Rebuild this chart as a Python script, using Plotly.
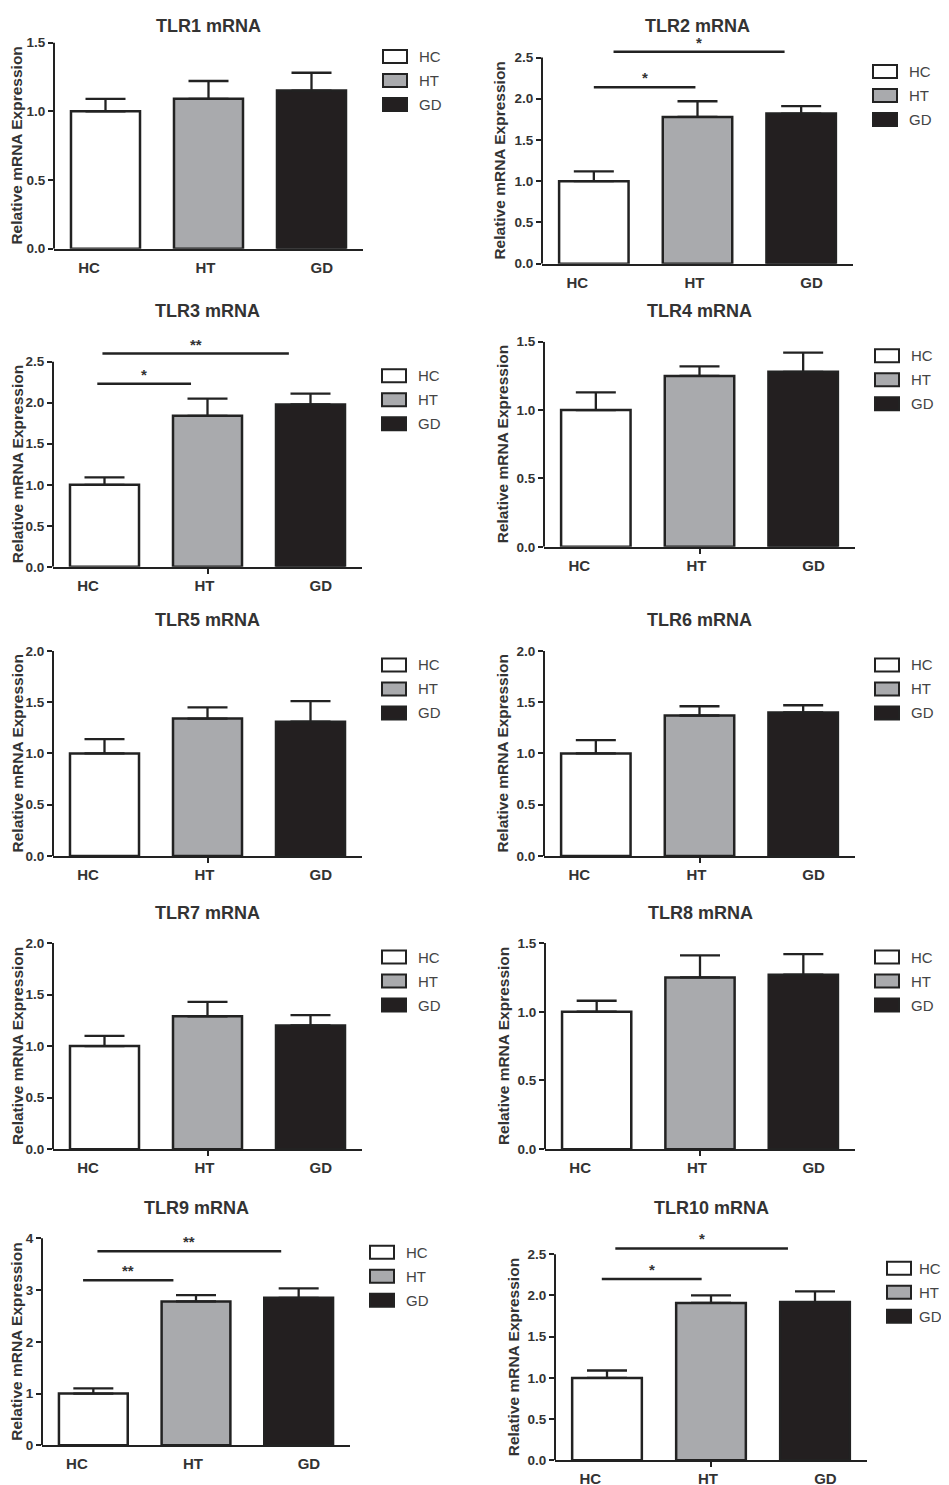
import plotly.graph_objects as go

W, H = 949, 1485
# where the page puts the plot: screen = offset + scale * paper (measured)
OFF_X = 8
OFF_Y, SCALE_Y = 15.5, 0.9893
RIGHT_LIMIT = 940  # last visible screen column

groups = ["HC", "HT", "GD"]
bar_colors = ["#ffffff", "#a9aaad", "#231f20"]

titles = ["TLR1 mRNA", "TLR2 mRNA", "TLR3 mRNA", "TLR4 mRNA", "TLR5 mRNA",
          "TLR6 mRNA", "TLR7 mRNA", "TLR8 mRNA", "TLR9 mRNA", "TLR10 mRNA"]

mean_vals = [
    [1.00, 1.09, 1.15],
    [1.00, 1.78, 1.82],
    [1.00, 1.84, 1.98],
    [1.00, 1.25, 1.28],
    [1.00, 1.34, 1.31],
    [1.00, 1.37, 1.40],
    [1.00, 1.29, 1.20],
    [1.00, 1.25, 1.27],
    [1.00, 2.78, 2.85],
    [1.00, 1.91, 1.92],
]
sem_vals = [
    [0.09, 0.13, 0.13],
    [0.12, 0.19, 0.09],
    [0.09, 0.21, 0.13],
    [0.13, 0.07, 0.14],
    [0.14, 0.11, 0.20],
    [0.13, 0.09, 0.07],
    [0.10, 0.14, 0.10],
    [0.08, 0.16, 0.15],
    [0.10, 0.12, 0.18],
    [0.09, 0.09, 0.13],
]
y_max = [1.5, 2.5, 2.5, 1.5, 2.0, 2.0, 2.0, 1.5, 4, 2.5]
y_step = [0.5, 0.5, 0.5, 0.5, 0.5, 0.5, 0.5, 0.5, 1, 0.5]

# significance bars: panel -> list of (x_start, x_end, height, label)
sig_bars = {
    1: [(0.0, 0.98, 2.14, "*"), (0.19, 1.84, 2.57, "*")],
    2: [(-0.07, 0.84, 2.23, "*"), (-0.02, 1.79, 2.60, "**")],
    8: [(-0.10, 0.78, 3.19, "**"), (0.04, 1.83, 3.75, "**")],
    9: [(-0.05, 0.91, 2.20, "*"), (0.08, 1.74, 2.57, "*")],
}

# panels where the x tick under HT shows
ht_tick = [2, 3, 4, 5, 6, 7, 9]

# panel placement in pixels: axis left, axis right, top tick y, zero y, title y
panels = [
    (54, 363, 43, 249, 13),
    (542, 853, 58, 264, 13),
    (53, 362, 362, 567, 311),
    (544, 855, 342, 547, 311),
    (53, 362, 651, 856, 620),
    (544, 855, 651, 856, 620),
    (53, 362, 943, 1149, 913),
    (545, 855, 943, 1149, 913),
    (42, 350, 1238, 1445, 1208),
    (555, 867, 1254, 1460, 1208),
]


def px(x):
    return (x - OFF_X) / W


def py(y):
    return 1 - ((y - OFF_Y) / SCALE_Y) / H


FONT = "Liberation Sans, Arial, sans-serif"
INK = "#222222"
TXT = "#333333"

fig = go.Figure()
layout = dict(width=W, height=H, margin=dict(l=0, r=0, t=0, b=0),
              paper_bgcolor="white", plot_bgcolor="white", showlegend=False,
              font=dict(family=FONT, color=TXT))
shapes = []
annos = []

for i, title in enumerate(titles):
    s = "" if i == 0 else str(i + 1)
    x0, x1, ytop, ybot, ty = panels[i]
    top = y_max[i]
    ext = 32 if i in sig_bars else 0
    rng_top = top * (ybot - ytop + ext) / (ybot - ytop)

    fig.add_trace(go.Bar(
        x=[0, 1, 2], y=mean_vals[i], width=0.67,
        marker=dict(color=bar_colors, line=dict(color=INK, width=2.5)),
        error_y=dict(type="data", symmetric=False, array=sem_vals[i],
                     arrayminus=[0, 0, 0], color=INK, thickness=2.3, width=20),
        xaxis="x" + s, yaxis="y" + s, hoverinfo="skip"))

    n = int(round(top / y_step[i]))
    tv = [k * y_step[i] for k in range(n + 1)]
    xax = dict(
        domain=[px(x0), px(x1)], anchor="y" + s, range=[-0.5, 2.5],
        showline=True, linewidth=2, linecolor=INK, showgrid=False, zeroline=False,
        tickvals=[k + (k - 1) * 0.13 - 0.03 for k in range(3)], ticktext=groups,
        ticks="outside", ticklen=4, tickcolor="rgba(0,0,0,0)",
        tickfont=dict(family=FONT, size=15, color=TXT, weight="bold"), fixedrange=True)
    if i in ht_tick:
        xax["minor"] = dict(tickvals=[1], ticks="outside", ticklen=5, tickwidth=2,
                            tickcolor=INK, showgrid=False)
    layout["xaxis" + s] = xax
    layout["yaxis" + s] = dict(
        domain=[py(ybot), py(ytop - ext)], anchor="x" + s,
        range=[0, rng_top], showline=False, showgrid=False, zeroline=False,
        tickvals=tv, tickformat=".1f" if y_step[i] < 1 else "d",
        ticks="outside", ticklen=5, tickwidth=2, tickcolor=INK,
        tickfont=dict(family=FONT, size=13.5, color=TXT, weight="bold"), fixedrange=True)

    # y axis line up to the top tick
    shapes.append(dict(type="line", xref="x" + s + " domain", yref="y" + s,
                       x0=0, x1=0, y0=0, y1=top, line=dict(color=INK, width=2)))

    # panel title (kept inside the drawable area)
    annos.append(dict(text=title, xref="x" + s + " domain", x=0.5, yref="paper",
                      y=min(py(ty), 1 - 11 / H), showarrow=False,
                      xanchor="center", yanchor="middle",
                      font=dict(family=FONT, size=18, color=TXT, weight="bold")))
    # y axis title, kept clear of the left edge
    off = 42 if y_step[i] < 1 else 32
    off = min(off, x0 - (OFF_X + 9))
    annos.append(dict(text="Relative mRNA Expression", xref="x" + s + " domain", x=0,
                      xshift=-off, yref="y" + s, y=top / 2,
                      textangle=-90, showarrow=False, xanchor="center", yanchor="middle",
                      font=dict(family=FONT, size=15.5, color=TXT, weight="bold")))

    # legend
    tshift = min(54, RIGHT_LIMIT - 23 - x1)
    for k, g in enumerate(groups):
        dy = 14 + 24 * k
        shapes.append(dict(type="rect", xref="x" + s + " domain", xsizemode="pixel",
                           xanchor=1, x0=20, x1=44, yref="y" + s, ysizemode="pixel",
                           yanchor=top, y0=-dy - 6.5, y1=-dy + 6.5,
                           fillcolor=bar_colors[k], line=dict(color=INK, width=2)))
        annos.append(dict(text=g, xref="x" + s + " domain", x=1, xshift=tshift,
                          yref="y" + s, y=top, yshift=-dy, showarrow=False,
                          xanchor="left", yanchor="middle",
                          font=dict(family=FONT, size=15, color="#444444")))

    # significance bars
    for xa, xb, h, lab in sig_bars.get(i, []):
        shapes.append(dict(type="line", xref="x" + s, yref="y" + s, x0=xa, x1=xb,
                           y0=h, y1=h, line=dict(color=INK, width=2.5)))
        annos.append(dict(text=lab, xref="x" + s, x=(xa + xb) / 2, yref="y" + s, y=h,
                          showarrow=False, xanchor="center", yanchor="bottom", yshift=-1,
                          font=dict(family=FONT, size=15, color=TXT, weight="bold")))

layout["shapes"] = shapes
layout["annotations"] = annos
fig.update_layout(**layout)

fig.write_html("out.html")
